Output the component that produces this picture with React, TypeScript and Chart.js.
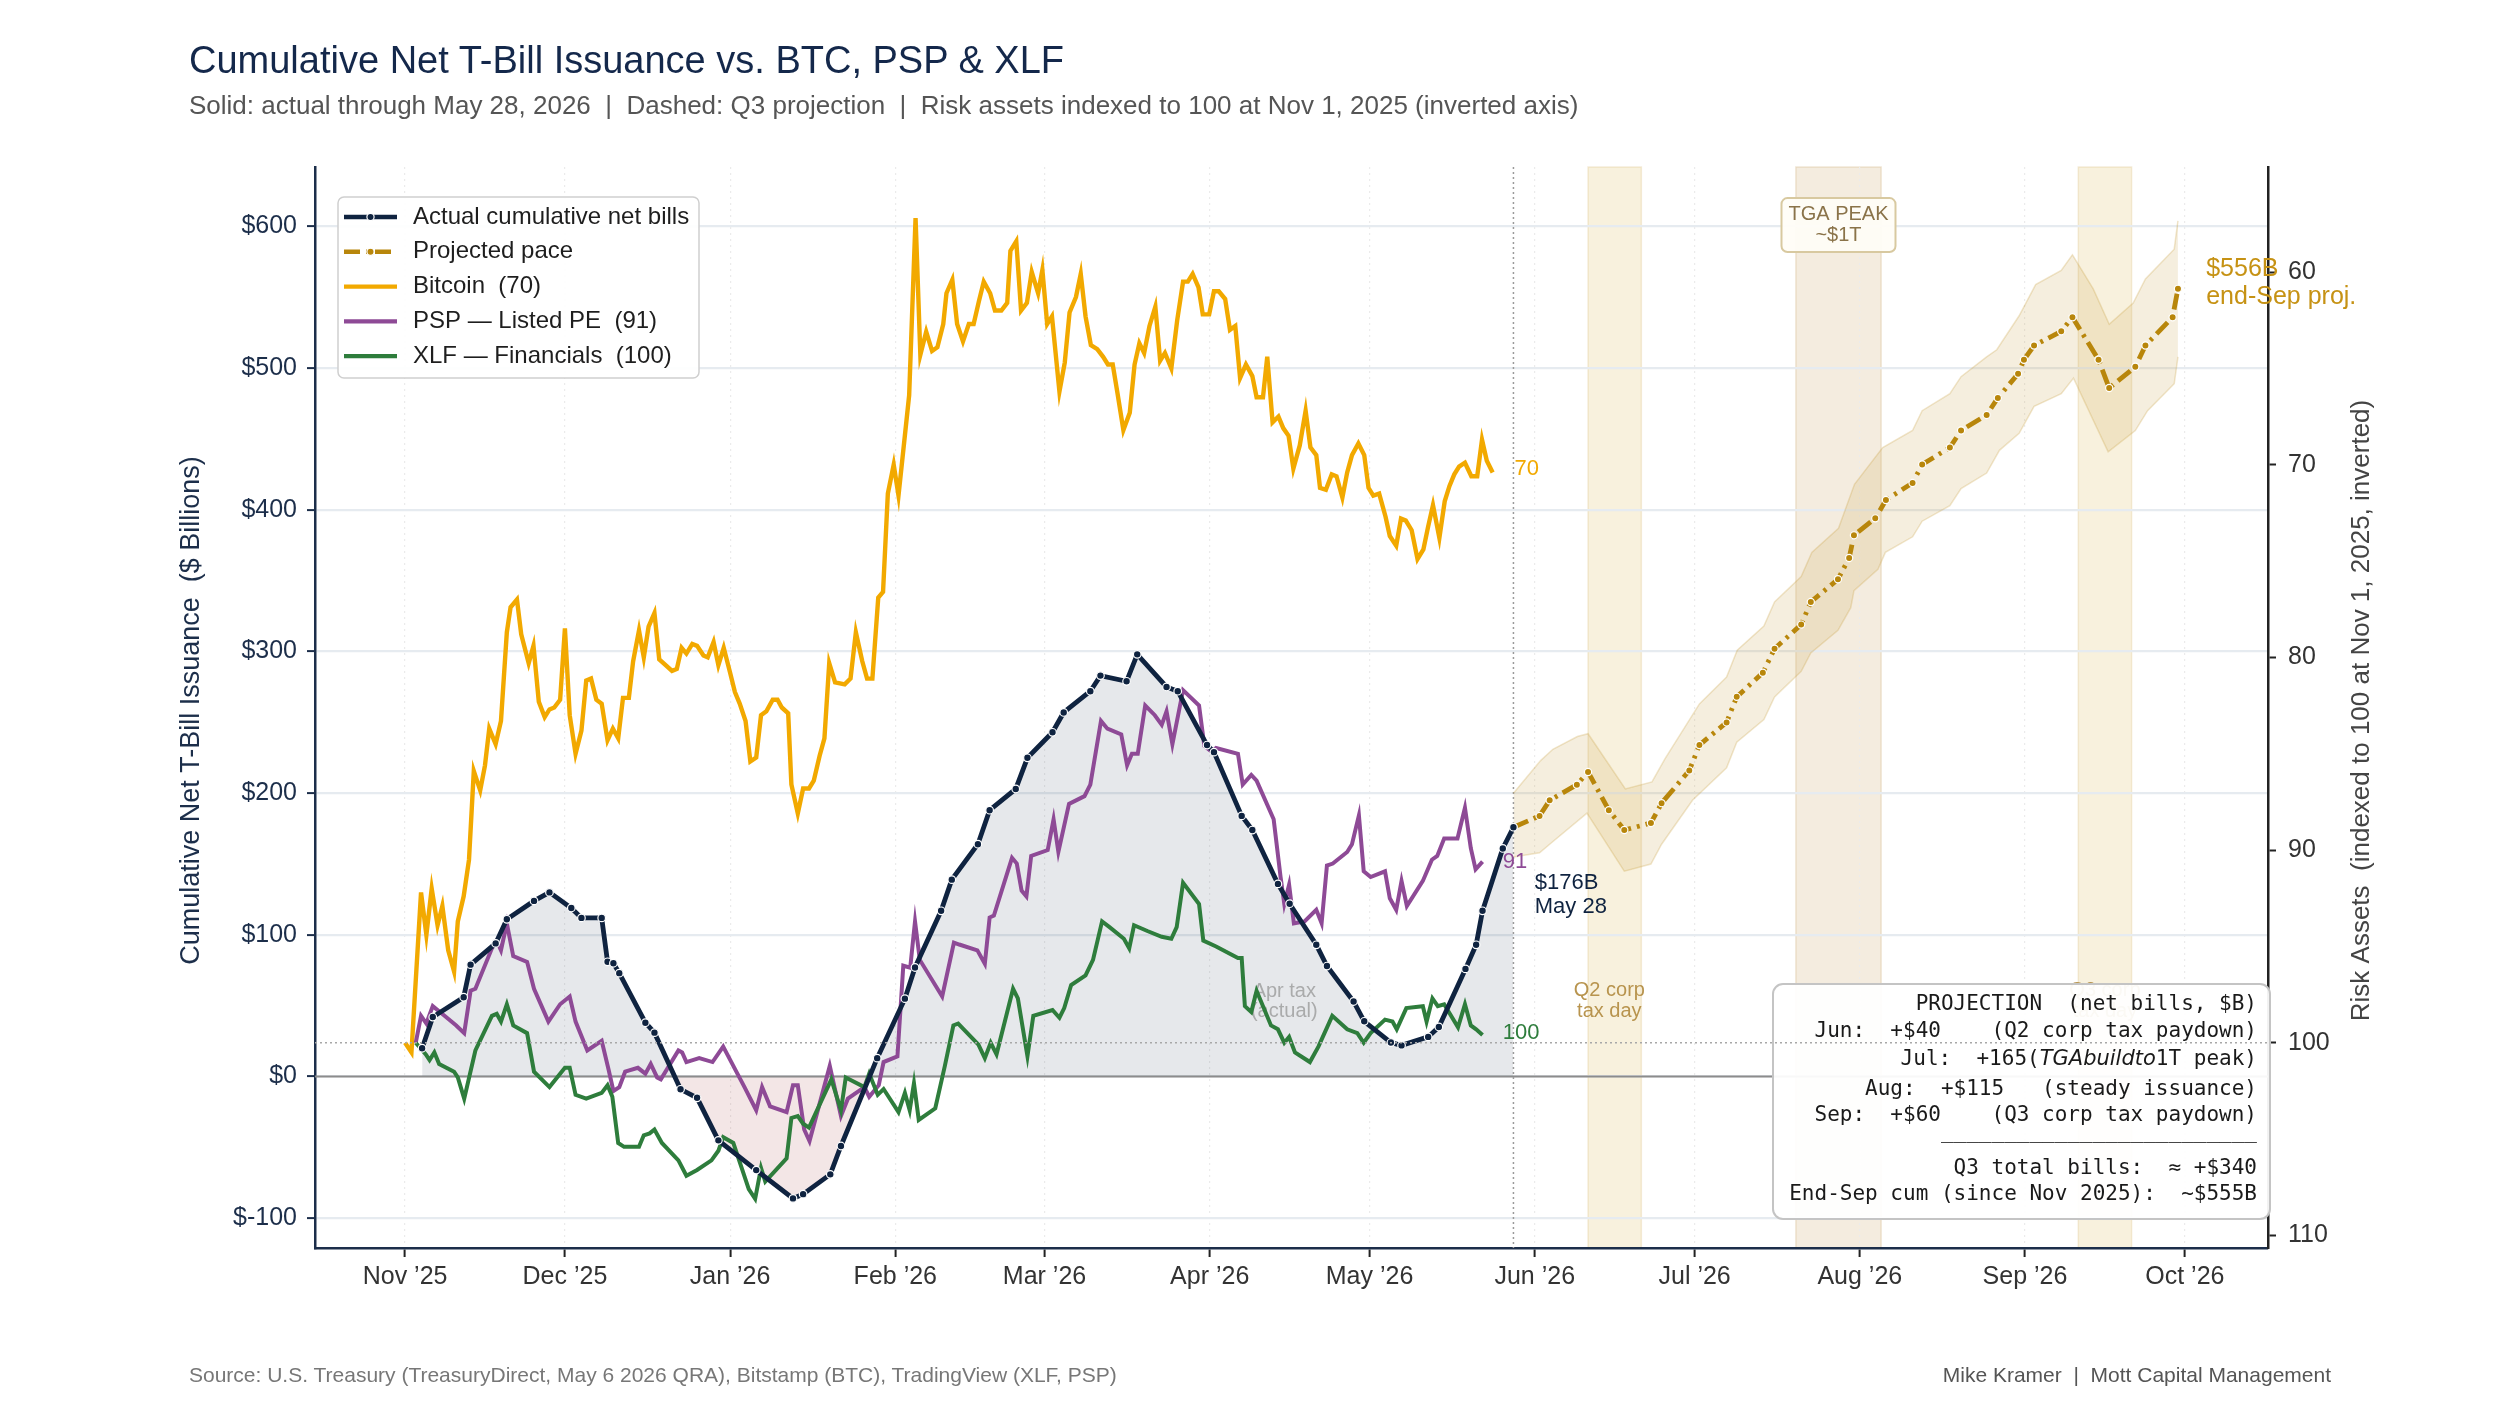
import React, { useEffect, useRef } from "react";
import { Chart, registerables } from "chart.js";

Chart.register(...registerables);

const FONT = '"Liberation Sans", Arial, sans-serif';
const MONO = '"DejaVu Sans Mono", monospace';

const NAVY = "#0f2340";
const GOLD = "#b8860b";
const BTC_C = "#f2a900";
const PSP_C = "#8e4a96";
const XLF_C = "#2e7d3c";

// x values are days since Nov 1, 2025
const monthDays = [0, 30, 61, 92, 120, 151, 181, 212, 242, 273, 304, 334];
const monthLabels = ["Nov ’25", "Dec ’25", "Jan ’26", "Feb ’26", "Mar ’26", "Apr ’26", "May ’26", "Jun ’26", "Jul ’26", "Aug ’26", "Sep ’26", "Oct ’26"];
const leftTicks = [-100, 0, 100, 200, 300, 400, 500, 600];
const rightTicks = [60, 70, 80, 90, 100, 110];

// cumulative net bills, $B
const netBills: [number, number][] = [
  [3.2, 20], [5.2, 42], [11, 56], [12.3, 79], [17, 94], [19.1, 111], [24.2, 124], [27.1, 130],
  [31.2, 119], [33.1, 112], [36.9, 112], [38, 81], [39.1, 80], [40.2, 73], [45.1, 38], [46.8, 31],
  [51.7, -9], [54.8, -15], [58.8, -45], [65.9, -66], [72.8, -86], [74.7, -83], [79.8, -69], [81.8, -49],
  [88.6, 13], [93.8, 55], [95.7, 77], [100.6, 117], [102.6, 139], [107.5, 164], [109.7, 188], [114.6, 203],
  [116.8, 225], [121.5, 243], [123.6, 257], [128.6, 272], [130.5, 283], [135.4, 279], [137.4, 298],
  [142.9, 275], [145, 272], [150.5, 234], [151.8, 229], [157, 184], [159, 174], [163.8, 136], [166, 122],
  [171, 93], [173, 78], [178, 53], [180, 39], [185, 24], [187, 22], [192, 28], [194, 35], [199, 76],
  [201, 93], [202.2, 117], [206, 161], [208, 176],
];

// projected pace and its range, $B
const projCenter: [number, number][] = [
  [208, 176], [212.9, 184], [214.8, 195], [219.9, 206], [222, 215], [225.9, 188], [228.8, 174],
  [233.8, 179], [235.8, 193], [241, 216], [242.9, 234], [248, 250], [249.9, 268], [254.8, 285],
  [257, 302], [262, 319], [263.8, 335], [268.9, 351], [271, 366], [271.9, 382], [275.9, 394],
  [277.9, 407], [282.9, 419], [284.7, 432], [289.9, 444], [292, 456], [296.8, 467], [298.9, 479],
  [302.7, 496], [303.8, 506], [305.7, 516], [310.8, 526], [312.9, 536], [317.8, 506], [319.8, 486],
  [324.7, 501], [326.6, 516], [331.7, 536], [332.7, 556],
];
const projUpper: [number, number][] = [
  [208, 200], [213.1, 223], [215.4, 231], [220, 240], [222, 242], [229, 203], [234, 208], [236.4, 224],
  [242.9, 263], [248, 282], [250, 301], [255, 318], [257, 335], [262, 353], [264, 370], [269, 387],
  [272, 418], [277.3, 444], [282.9, 456], [284.7, 470], [289.9, 482], [292, 494], [296.8, 508],
  [298.7, 513], [302.9, 537], [306, 559], [310.8, 569], [312.9, 580], [316.8, 556], [319.8, 531],
  [324.3, 546], [326.6, 563], [332, 584], [332.7, 604],
];
const projLower: [number, number][] = [
  [208, 155], [212.9, 158], [214.8, 164], [221.8, 186], [228.8, 145], [233.8, 150], [235.8, 164],
  [241.6, 195], [248, 218], [249.9, 236], [255, 252], [257, 268], [262, 286], [263.8, 299],
  [268.9, 315], [271.3, 331], [271.9, 343], [276.4, 358], [277.8, 370], [282.9, 381], [284.7, 392],
  [289.9, 403], [292, 415], [296.8, 426], [299.2, 442], [302.9, 454], [305.7, 473], [310.8, 482],
  [313.1, 493], [319.6, 441], [324.7, 456], [327, 470], [332, 489], [332.7, 508],
];

// risk assets, indexed to 100 at Nov 1, 2025
const btc: [number, number][] = [
  [0, 100], [1.2, 100.5], [3, 92.2], [4, 94.4], [5, 92.0], [6.1, 93.9], [7, 92.9], [8.1, 95.2],
  [9.2, 96.3], [9.9, 93.7], [11, 92.4], [12, 90.5], [12.9, 85.9], [14.1, 86.9], [15, 85.6], [15.8, 83.7],
  [17, 84.5], [18, 83.3], [19.1, 78.7], [19.8, 77.4], [21, 77.0], [21.8, 78.8], [23.2, 80.3], [24.1, 79.4],
  [25.1, 82.3], [26.2, 83.1], [27.1, 82.7], [28, 82.6], [29.1, 82.2], [30, 78.5], [30.9, 83.0], [32, 85.0],
  [33.1, 83.8], [34, 81.2], [34.9, 81.1], [35.9, 82.2], [36.9, 82.4], [38, 84.3], [39, 83.7], [40, 84.2],
  [40.9, 82.1], [42, 82.1], [42.8, 80.2], [43.9, 78.6], [44.8, 80.0], [45.7, 78.4], [46.8, 77.7],
  [47.7, 80.1], [48.9, 80.4], [50.1, 80.7], [51, 80.6], [51.9, 79.5], [52.8, 79.8], [53.9, 79.3],
  [54.8, 79.4], [56, 79.9], [56.8, 80.0], [57.9, 79.2], [58.8, 80.4], [59.8, 79.5], [61, 80.8],
  [61.9, 81.8], [62.8, 82.4], [63.9, 83.3], [64.8, 85.4], [65.9, 85.2], [66.8, 83.0], [67.8, 82.8],
  [69, 82.2], [69.9, 82.2], [70.7, 82.6], [71.9, 82.9], [72.5, 86.6], [73.7, 88.1], [74.7, 86.8],
  [75.8, 86.8], [76.7, 86.4], [77.8, 85.1], [78.7, 84.2], [79.6, 80.3], [80.7, 81.3], [82.5, 81.4],
  [83.6, 81.1], [84.6, 78.7], [85.8, 80.2], [86.7, 81.1], [87.7, 81.1], [88.8, 76.9], [89.7, 76.6],
  [90.6, 71.5], [91.7, 70.0], [92.6, 71.6], [94.6, 66.4], [95.8, 57.2], [96.7, 64.3], [97.8, 63.1],
  [98.9, 64.1], [99.9, 63.9], [101, 62.7], [101.6, 61.1], [102.7, 60.4], [103.6, 62.7], [104.7, 63.6],
  [105.8, 62.7], [106.7, 62.7], [107.7, 61.5], [108.6, 60.5], [109.8, 61.1], [110.7, 62.0], [111.9, 62.0],
  [113, 61.6], [113.6, 58.9], [114.7, 58.4], [115.6, 62.0], [116.7, 61.6], [117.6, 60.0], [118.8, 61.1],
  [119.6, 59.9], [120.5, 62.7], [121.4, 62.3], [122.8, 66.2], [123.8, 64.7], [124.7, 62.1], [125.9, 61.3],
  [126.8, 60.1], [127.7, 62.3], [128.7, 63.8], [129.9, 64.0], [131, 64.4], [131.9, 64.8], [132.8, 64.8],
  [133.7, 66.3], [134.8, 68.2], [136, 67.3], [136.9, 64.8], [137.8, 63.7], [138.7, 64.2], [139.7, 62.8],
  [140.8, 61.8], [141.7, 64.6], [142.6, 64.2], [143.8, 65.0], [144.9, 62.5], [146, 60.5], [146.9, 60.5],
  [147.8, 60.1], [148.9, 60.8], [149.7, 62.2], [150.9, 62.2], [151.8, 61.0], [152.7, 61.0], [153.9, 61.4],
  [154.8, 63.0], [155.8, 62.8], [156.7, 65.5], [157.8, 64.8], [159, 65.4], [159.8, 66.5], [161, 66.5],
  [161.8, 64.4], [162.8, 67.8], [163.9, 67.5], [164.8, 68.1], [165.8, 68.5], [166.7, 70.2], [167.9, 69.0],
  [169, 67.2], [169.9, 69.1], [171, 69.5], [171.7, 71.2], [172.8, 71.3], [173.9, 70.5], [174.8, 70.6],
  [175.9, 71.7], [176.8, 70.4], [177.7, 69.5], [178.9, 68.9], [180, 69.5], [180.8, 71.2], [181.7, 71.6],
  [182.8, 71.5], [184, 72.7], [184.8, 73.7], [186, 74.2], [186.9, 72.8], [187.8, 72.9], [188.9, 73.4],
  [190, 74.9], [191.1, 74.4], [192, 73.2], [192.9, 72.1], [194.1, 73.8], [195.1, 71.9], [196, 71.1],
  [196.9, 70.5], [197.8, 70.1], [198.9, 69.9], [200.1, 70.6], [201.2, 70.6], [202.1, 68.7], [203, 69.8],
  [204.1, 70.4],
];
const psp: [number, number][] = [
  [2, 100], [3, 98.6], [4, 99.0], [5.2, 98.1], [7.4, 98.6], [9.6, 99.1], [11.1, 99.5], [12.3, 97.3],
  [13.2, 97.2], [16.3, 95.1], [17.2, 94.7], [18, 95.2], [19.1, 93.8], [20.3, 95.5], [22.9, 95.8],
  [24.2, 97.2], [26.9, 98.9], [29.1, 98.0], [30.9, 97.6], [32, 98.9], [34.2, 100.4], [36.9, 99.9],
  [38.2, 101.4], [39.1, 102.5], [40.2, 102.3], [41.3, 101.5], [43.7, 101.3], [45.1, 101.6], [46.1, 101.1],
  [47.3, 101.8], [48, 101.9], [51.3, 100.4], [52, 100.5], [52.8, 101.0], [55.2, 100.8], [57.7, 101.0],
  [59.7, 100.2], [61.6, 101.2], [63.7, 102.3], [65.9, 103.5], [67, 102.3], [68.5, 103.3], [71.6, 103.6],
  [72.8, 102.2], [73.7, 102.2], [74.9, 104.5], [75.9, 105.1], [79.7, 101.2], [81.8, 103.8], [83.1, 102.9],
  [86.2, 102.3], [87.1, 102.8], [88.9, 102.2], [89.8, 101.0], [92.4, 100.7], [93.5, 96.0], [94.8, 96.1],
  [95.7, 93.7], [96.6, 95.7], [100.8, 97.6], [103, 94.8], [104, 94.9], [107.4, 95.2], [108.8, 95.9],
  [109.7, 93.5], [110.5, 93.4], [113.9, 90.4], [114.8, 90.7], [115.7, 92.1], [116.6, 92.4], [117.5, 90.3],
  [120.6, 90.0], [121.7, 88.4], [122.6, 90.1], [124.6, 87.6], [127.5, 87.2], [128.6, 86.6], [130.6, 83.3],
  [131.8, 83.7], [134.4, 84.0], [135.5, 85.6], [136.4, 85.0], [137.5, 85.0], [138.9, 82.5], [140.7, 83.0],
  [142, 83.5], [142.9, 82.8], [144, 84.5], [146, 81.7], [149, 82.5], [150, 84.6], [151.4, 84.9],
  [152.2, 84.7], [156.3, 85.0], [157.2, 86.6], [158.8, 86.1], [159.8, 86.4], [163, 88.4], [164.3, 91.4],
  [165, 92.8], [165.9, 91.8], [166.8, 93.8], [168.8, 93.7], [171, 93.1], [172, 93.8], [173, 90.8],
  [174.1, 90.7], [176.8, 90.1], [177.7, 89.7], [179, 88.2], [179.9, 91.1], [181.2, 91.4], [183.9, 91.1],
  [184.8, 92.5], [186, 93.1], [187, 91.6], [188, 92.9], [191, 91.6], [192.7, 90.5], [193.7, 90.3],
  [195, 89.4], [197.5, 89.4], [198.9, 87.8], [200, 89.9], [200.9, 91.0], [202.2, 90.6],
];
const xlf: [number, number][] = [
  [2, 100], [3.9, 100.6], [4.6, 100.9], [5.5, 100.5], [6.4, 101.1], [9.2, 101.5], [9.9, 101.8],
  [11.1, 102.9], [13.2, 100.4], [16.3, 98.6], [17.2, 98.5], [18, 98.9], [19.1, 98.0], [20.3, 99.1],
  [22.9, 99.5], [24.2, 101.5], [27.1, 102.3], [30, 101.3], [30.9, 101.3], [32, 102.7], [34, 102.9],
  [36.9, 102.6], [38, 102.2], [38.9, 102.8], [40, 105.2], [41.1, 105.4], [43.9, 105.4], [44.8, 104.8],
  [45.9, 104.7], [46.8, 104.5], [48.2, 105.2], [51.3, 106.1], [52.8, 106.9], [54.8, 106.6], [57.5, 106.1],
  [58.8, 105.6], [59.7, 104.9], [61.6, 105.2], [64.5, 107.6], [65.7, 108.1], [66.8, 106.5], [67.6, 107.2],
  [71.6, 106.0], [72.5, 103.9], [73.7, 103.8], [74.7, 104.2], [75.8, 104.4], [80, 101.9], [81.8, 103.5],
  [82.7, 101.8], [86.2, 102.3], [87.1, 101.6], [88.7, 102.7], [89.8, 102.4], [92.6, 103.6], [93.8, 102.6],
  [94.7, 103.5], [95.5, 102.1], [96.4, 104.0], [99.5, 103.4], [101.3, 101.2], [102.9, 99.1], [103.8, 99.0],
  [107.6, 100.1], [108.8, 100.8], [109.9, 100.0], [111, 100.6], [114.1, 97.2], [115, 97.7], [116.8, 100.7],
  [117.9, 98.6], [121.5, 98.3], [122.8, 98.7], [123.7, 98.2], [125, 97.0], [127.7, 96.5], [129.1, 95.7],
  [130.8, 93.7], [132.2, 94.0], [134.9, 94.6], [135.9, 95.1], [136.8, 93.9], [139.3, 94.2], [142, 94.5],
  [143.8, 94.6], [144.8, 94.0], [146, 91.7], [149, 92.8], [149.8, 94.7], [152.2, 95.0], [156.3, 95.6],
  [157, 95.6], [157.6, 98.1], [158.8, 98.4], [159.8, 97.3], [162.5, 99.1], [163.8, 99.3], [165, 100.0],
  [165.9, 99.7], [167, 100.5], [169.8, 101.0], [171.4, 100.2], [174, 98.6], [176.8, 99.3], [178.7, 99.5],
  [179.9, 100.0], [181.2, 99.5], [183.9, 98.8], [185.3, 98.9], [186.1, 99.3], [187.9, 98.2], [191, 98.1],
  [191.7, 98.9], [192.8, 97.7], [193.8, 98.1], [195, 98.0], [197.6, 99.2], [198.9, 98.0], [200, 99.1],
  [201, 99.3], [202.2, 99.6],
];

const taxBands: [number, number][] = [[222, 232], [314, 324]];
const tgaBand: [number, number] = [261, 277];

const legendItems = [
  { label: "Actual cumulative net bills", color: NAVY, width: 4.5, dash: [] as number[], marker: true },
  { label: "Projected pace", color: GOLD, width: 4.5, dash: [16, 6, 3, 6], marker: true },
  { label: "Bitcoin  (70)", color: BTC_C, width: 4.2, dash: [], marker: false },
  { label: "PSP — Listed PE  (91)", color: PSP_C, width: 4.2, dash: [], marker: false },
  { label: "XLF — Financials  (100)", color: XLF_C, width: 4.2, dash: [], marker: false },
];

const projLines = [
  "PROJECTION  (net bills, $B)",
  "Jun:  +$40    (Q2 corp tax paydown)",
  "Jul:  +165(|TGAbuildto|1T peak)",
  "Aug:  +$115   (steady issuance)",
  "Sep:  +$60    (Q3 corp tax paydown)",
  "_________________________",
  "Q3 total bills:  ≈ +$340",
  "End-Sep cum (since Nov 2025):  ~$555B",
];

const toXY = (arr: [number, number][]) => arr.map(([x, y]) => ({ x, y }));

const txt = (ctx: CanvasRenderingContext2D, s: string, x: number, y: number, font: string, color: string, align: CanvasTextAlign = "left", base: CanvasTextBaseline = "middle") => {
  ctx.font = font;
  ctx.fillStyle = color;
  ctx.textAlign = align;
  ctx.textBaseline = base;
  ctx.fillText(s, x, y);
};

const overlay = {
  id: "overlay",
  beforeDraw(chart: any) {
    const { ctx, chartArea: a, scales } = chart;
    const x = scales.x;
    ctx.save();
    const band = ([d0, d1]: [number, number], fill: string, edge: string) => {
      const x0 = x.getPixelForValue(d0);
      const x1 = x.getPixelForValue(d1);
      ctx.fillStyle = fill;
      ctx.fillRect(x0, a.top, x1 - x0, a.bottom - a.top);
      ctx.strokeStyle = edge;
      ctx.lineWidth = 1.5;
      ctx.strokeRect(x0, a.top, x1 - x0, a.bottom - a.top);
    };
    taxBands.forEach((b) => band(b, "rgba(225,190,100,0.22)", "rgba(215,185,110,0.25)"));
    band(tgaBand, "rgba(205,170,110,0.22)", "rgba(205,170,110,0.28)");
    ctx.restore();
  },
  beforeDatasetsDraw(chart: any) {
    const { ctx, chartArea: a, scales } = chart;
    const x = scales.x;
    const y = scales.y;
    ctx.save();
    // zero line
    ctx.strokeStyle = "#8c8c8c";
    ctx.lineWidth = 2;
    ctx.beginPath();
    ctx.moveTo(a.left, y.getPixelForValue(0));
    ctx.lineTo(a.right, y.getPixelForValue(0));
    ctx.stroke();
    // last actual date
    ctx.strokeStyle = "#9a9a9a";
    ctx.lineWidth = 1.5;
    ctx.setLineDash([2, 3]);
    ctx.beginPath();
    ctx.moveTo(x.getPixelForValue(208), a.top);
    ctx.lineTo(x.getPixelForValue(208), a.bottom);
    ctx.stroke();
    ctx.setLineDash([]);
    const f = `20px ${FONT}`;
    txt(ctx, "Apr tax", x.getPixelForValue(165), y.getPixelForValue(60), f, "rgba(150,150,150,0.75)", "center");
    txt(ctx, "(actual)", x.getPixelForValue(165), y.getPixelForValue(46), f, "rgba(150,150,150,0.75)", "center");
    [226, 319].forEach((d, i) => {
      txt(ctx, i === 0 ? "Q2 corp" : "Q3 corp", x.getPixelForValue(d), y.getPixelForValue(61), f, "#b8944e", "center");
      txt(ctx, "tax day", x.getPixelForValue(d), y.getPixelForValue(46), f, "#b8944e", "center");
    });
    ctx.restore();
  },
  afterDraw(chart: any) {
    const { ctx, chartArea: a, scales } = chart;
    const x = scales.x;
    const y = scales.y;
    const y2 = scales.y2;
    ctx.save();

    // legend
    const lx = a.left + 23;
    const ly = a.top + 30;
    ctx.beginPath();
    ctx.roundRect(lx, ly, 361, 181, 6);
    ctx.fillStyle = "rgba(255,255,255,0.92)";
    ctx.fill();
    ctx.strokeStyle = "#cfcfcf";
    ctx.lineWidth = 1.5;
    ctx.stroke();
    legendItems.forEach((it, i) => {
      const cy = ly + 20 + i * 34.8;
      ctx.strokeStyle = it.color;
      ctx.lineWidth = it.width;
      ctx.setLineDash(it.dash);
      ctx.beginPath();
      ctx.moveTo(lx + 6, cy);
      ctx.lineTo(lx + 59, cy);
      ctx.stroke();
      ctx.setLineDash([]);
      if (it.marker) {
        ctx.beginPath();
        ctx.arc(lx + 32.5, cy, 3.6, 0, Math.PI * 2);
        ctx.fillStyle = it.color;
        ctx.fill();
        ctx.strokeStyle = "#fff";
        ctx.lineWidth = 1.2;
        ctx.stroke();
      }
      txt(ctx, it.label, lx + 75, cy, `24px ${FONT}`, "#1e1e1e");
    });

    // TGA peak label
    const tx = x.getPixelForValue((tgaBand[0] + tgaBand[1]) / 2);
    const ty = y.getPixelForValue(601);
    ctx.beginPath();
    ctx.roundRect(tx - 57, ty - 27, 114, 54, 6);
    ctx.fillStyle = "rgba(255,253,247,0.95)";
    ctx.fill();
    ctx.strokeStyle = "#d8c9a0";
    ctx.lineWidth = 2;
    ctx.stroke();
    txt(ctx, "TGA PEAK", tx, ty - 11, `20px ${FONT}`, "#8a7349", "center");
    txt(ctx, "~$1T", tx, ty + 10, `20px ${FONT}`, "#8a7349", "center");

    // end labels
    const lf = `22px ${FONT}`;
    txt(ctx, "$176B", x.getPixelForValue(212), y.getPixelForValue(137), lf, NAVY);
    txt(ctx, "May 28", x.getPixelForValue(212), y.getPixelForValue(120), lf, NAVY);
    txt(ctx, "70", x.getPixelForValue(208.2), y2.getPixelForValue(70.2), lf, BTC_C);
    txt(ctx, "91", x.getPixelForValue(206), y2.getPixelForValue(90.6), lf, PSP_C);
    txt(ctx, "100", x.getPixelForValue(206), y2.getPixelForValue(99.5), lf, XLF_C);
    txt(ctx, "$556B", x.getPixelForValue(338), y.getPixelForValue(570), `25px ${FONT}`, "#c69214");
    txt(ctx, "end-Sep proj.", x.getPixelForValue(338), y.getPixelForValue(550), `25px ${FONT}`, "#c69214");

    // projection box
    const bx0 = a.right - 495;
    const by0 = a.bottom - 264;
    ctx.beginPath();
    ctx.roundRect(bx0, by0, 497, 235, 10);
    ctx.fillStyle = "rgba(255,255,255,0.94)";
    ctx.fill();
    ctx.strokeStyle = "#c4c4c4";
    ctx.lineWidth = 2;
    ctx.stroke();
    const mf = `21px ${MONO}`;
    const rx = a.right - 11;
    const rowY = [21, 47.7, 76, 105.3, 132, 156, 184.3, 211];
    projLines.forEach((line, i) => {
      const cy = by0 + rowY[i];
      if (line.includes("|")) {
        const parts = line.split("|");
        const fonts = [mf, `italic 21px "DejaVu Sans", sans-serif`, mf];
        const widths = parts.map((p, k) => {
          ctx.font = fonts[k];
          return ctx.measureText(p).width;
        });
        let cx = rx - widths.reduce((s, w) => s + w, 0);
        parts.forEach((p, k) => {
          txt(ctx, p, cx, cy, fonts[k], "#1a1a1a");
          cx += widths[k];
        });
      } else if (line.startsWith("_")) {
        txt(ctx, line, rx, cy - 2, mf, "#1a1a1a", "right", "alphabetic");
      } else {
        txt(ctx, line, rx, cy, mf, "#1a1a1a", "right");
      }
    });

    // index = 100 reference
    ctx.strokeStyle = "#a8a8a8";
    ctx.lineWidth = 1.5;
    ctx.setLineDash([2, 3]);
    ctx.beginPath();
    ctx.moveTo(a.left, y2.getPixelForValue(100));
    ctx.lineTo(a.right, y2.getPixelForValue(100));
    ctx.stroke();
    ctx.setLineDash([]);

    // axis titles
    const midY = (a.top + a.bottom) / 2 + 3;
    ctx.translate(192, midY);
    ctx.rotate(-Math.PI / 2);
    txt(ctx, "Cumulative Net T-Bill Issuance  ($ Billions)", 0, 0, `27px ${FONT}`, "#1c2e4a", "center");
    ctx.rotate(Math.PI / 2);
    ctx.translate(2362 - 192, 0);
    ctx.rotate(-Math.PI / 2);
    txt(ctx, "Risk Assets  (indexed to 100 at Nov 1, 2025, inverted)", 0, 0, `26px ${FONT}`, "#444", "center");
    ctx.restore();
  },
};

const tickFont = { family: FONT, size: 25 };

export default function App() {
  const canvasRef = useRef<HTMLCanvasElement | null>(null);
  const chartRef = useRef<Chart | null>(null);

  useEffect(() => {
    const ctx = canvasRef.current?.getContext("2d");
    if (chartRef.current) chartRef.current.destroy();
    if (!ctx) return;

    chartRef.current = new Chart(ctx, {
      type: "line",
      data: {
        datasets: [
          {
            label: "Actual cumulative net bills",
            data: toXY(netBills),
            yAxisID: "y",
            borderColor: NAVY,
            borderWidth: 4.8,
            pointRadius: 3.8,
            pointBackgroundColor: NAVY,
            pointBorderColor: "#fff",
            pointBorderWidth: 1.2,
            fill: { target: "origin", above: "rgba(15,35,64,0.105)", below: "rgba(160,50,50,0.12)" },
            order: 0,
          },
          {
            label: "Projected pace",
            data: toXY(projCenter),
            yAxisID: "y",
            borderColor: GOLD,
            borderWidth: 4.8,
            borderDash: [16, 6, 3, 6],
            pointRadius: 3.6,
            pointBackgroundColor: GOLD,
            pointBorderColor: "#fff",
            pointBorderWidth: 1.2,
            fill: false,
            order: 1,
          },
          { label: "XLF", data: toXY(xlf), yAxisID: "y2", borderColor: XLF_C, borderWidth: 4, fill: false, order: 2 },
          { label: "PSP", data: toXY(psp), yAxisID: "y2", borderColor: PSP_C, borderWidth: 4, fill: false, order: 3 },
          { label: "Bitcoin", data: toXY(btc), yAxisID: "y2", borderColor: BTC_C, borderWidth: 4.4, fill: false, order: 4 },
          {
            label: "proj high",
            data: toXY(projUpper),
            yAxisID: "y",
            borderColor: "rgba(200,160,70,0.28)",
            borderWidth: 1.5,
            fill: false,
            order: 5,
          },
          {
            label: "proj low",
            data: toXY(projLower),
            yAxisID: "y",
            borderColor: "rgba(200,160,70,0.28)",
            borderWidth: 1.5,
            backgroundColor: "rgba(200,160,70,0.18)",
            fill: "-1",
            order: 6,
          },
        ],
      },
      options: {
        responsive: false,
        maintainAspectRatio: false,
        animation: false,
        devicePixelRatio: 1,
        events: [],
        layout: { padding: { top: 167, left: 0, right: 0, bottom: 0 } },
        elements: { line: { tension: 0 }, point: { radius: 0 } },
        plugins: {
          legend: { display: false },
          tooltip: { enabled: false },
          filler: { drawTime: "beforeDatasetsDraw" },
        },
        scales: {
          x: {
            type: "linear",
            min: -16.9,
            max: 349.6,
            afterBuildTicks: (s: any) => {
              s.ticks = monthDays.map((v) => ({ value: v }));
            },
            afterFit: (s: any) => {
              s.height = 156;
            },
            ticks: {
              autoSkip: false,
              maxRotation: 0,
              padding: 5,
              color: "#333",
              font: tickFont,
              callback: (v: any) => monthLabels[monthDays.indexOf(Number(v))] ?? "",
            },
            grid: { color: "#ebebeb", lineWidth: 1.2, tickLength: 9, tickColor: "#222", tickWidth: 2 },
            border: { color: "#1c2e4a", width: 2.5, dash: [2, 4] },
          },
          y: {
            position: "left",
            min: -121,
            max: 642,
            afterBuildTicks: (s: any) => {
              s.ticks = leftTicks.map((v) => ({ value: v }));
            },
            afterFit: (s: any) => {
              s.width = 315;
            },
            ticks: { color: "#1c2e4a", font: tickFont, padding: 10, callback: (v: any) => `$${v}` },
            grid: { color: "#e6ebf0", lineWidth: 2.2, tickLength: 8, tickColor: "#1c2e4a", tickWidth: 2 },
            border: { color: "#1c2e4a", width: 2.5 },
          },
          y2: {
            position: "right",
            reverse: true,
            min: 54.55,
            max: 110.65,
            afterBuildTicks: (s: any) => {
              s.ticks = rightTicks.map((v) => ({ value: v }));
            },
            afterFit: (s: any) => {
              s.width = 252;
            },
            ticks: { color: "#333", font: tickFont, padding: 12 },
            grid: { drawOnChartArea: false, tickLength: 8, tickColor: "#222", tickWidth: 2 },
            border: { color: "#222", width: 2.5 },
          },
        },
      },
      plugins: [overlay],
    } as any);

    return () => {
      if (chartRef.current) {
        chartRef.current.destroy();
        chartRef.current = null;
      }
    };
  }, []);

  return (
    <div style={{ position: "fixed", left: 0, top: 0, width: 2520, height: 1404, background: "#fff", overflow: "hidden" }}>
      <canvas ref={canvasRef} width={2520} height={1404} style={{ position: "absolute", left: 0, top: 0, width: 2520, height: 1404 }} />
      <div style={{ position: "absolute", left: 189, top: 41, font: `38px ${FONT}`, lineHeight: 1, color: "#14284b", whiteSpace: "nowrap" }}>
        Cumulative Net T-Bill Issuance vs. BTC, PSP &amp; XLF
      </div>
      <div style={{ position: "absolute", left: 189, top: 92, font: `26px ${FONT}`, lineHeight: 1, color: "#555", whiteSpace: "pre" }}>
        {"Solid: actual through May 28, 2026  |  Dashed: Q3 projection  |  Risk assets indexed to 100 at Nov 1, 2025 (inverted axis)"}
      </div>
      <div style={{ position: "absolute", left: 189, top: 1364, font: `21px ${FONT}`, lineHeight: 1, color: "#777", whiteSpace: "nowrap" }}>
        Source: U.S. Treasury (TreasuryDirect, May 6 2026 QRA), Bitstamp (BTC), TradingView (XLF, PSP)
      </div>
      <div style={{ position: "absolute", right: 189, top: 1364, font: `21px ${FONT}`, lineHeight: 1, color: "#555", whiteSpace: "pre" }}>
        {"Mike Kramer  |  Mott Capital Management"}
      </div>
    </div>
  );
}
